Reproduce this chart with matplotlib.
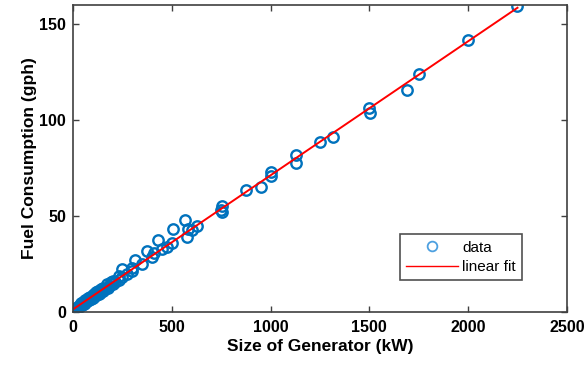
import numpy as np
import matplotlib
matplotlib.use("Agg")
import matplotlib.pyplot as plt

# generator size (kW) vs fuel use at full load (gal/h)
size_kw = [5, 8, 10, 12, 15, 15, 20, 20, 25, 27, 30, 30, 35, 40, 40, 45, 50, 50,
           55, 60, 60, 65, 70, 75, 75, 80, 85, 90, 100, 100, 105, 110, 115, 125,
           125, 130, 135, 140, 150, 150, 160, 170, 175, 180, 190, 200, 200, 210,
           230, 230, 250, 250, 275, 300, 300, 315, 350, 375, 400, 410, 431, 450,
           477, 500, 508, 568, 578, 584, 600, 629, 750, 756, 756, 873, 949, 1000,
           1000, 1127, 1127, 1250, 1315, 1500, 1502, 1690, 1750, 2000, 2250]
fuel_gph = [0.6, 1.0, 1.2, 1.5, 1.4, 2.0, 1.6, 2.3, 2.5, 2.0, 2.9, 3.3, 3.0, 3.8,
            4.4, 3.6, 4.5, 5.4, 4.3, 4.8, 6.2, 5.5, 5.6, 6.1, 7.2, 6.4, 7.9, 6.8,
            7.4, 8.7, 9.3, 8.2, 10.2, 9.1, 10.8, 9.6, 9.8, 12.0, 10.9, 12.6, 11.8,
            14.5, 12.7, 13.6, 15.8, 14.4, 16.2, 15.5, 16.6, 18.5, 18.0, 22.5, 20.0,
            21.5, 23.0, 27.0, 25.1, 32.0, 28.8, 30.5, 37.5, 33.0, 34.0, 35.7, 43.0,
            48.0, 39.0, 43.0, 42.8, 45.0, 53.4, 55.0, 52.0, 63.5, 65.0, 71.1, 73.0,
            82.0, 77.6, 88.8, 91.0, 106.5, 104.0, 116.0, 124.3, 141.9, 159.6]

x = np.array(size_kw, dtype=float)
y = np.array(fuel_gph, dtype=float)
p = np.polyfit(x, y, 1)
xf = np.array([x.min(), x.max()])

plt.rcParams['font.family'] = ['Liberation Sans', 'DejaVu Sans']

fig = plt.figure(figsize=(5.85, 3.7), dpi=100)
ax = fig.add_axes([0.125, 0.157, 0.844, 0.829])

ax.plot(x, y, 'o', mfc='none', mec='#0072BD', mew=1.7, ms=7.5, label='data')
ax.plot(xf, np.polyval(p, xf), '-', color='#FF0000', lw=1.4, label='linear fit')

ax.set_xlim(0, 2500)
ax.set_ylim(0, 160)
ax.set_xticks([0, 500, 1000, 1500, 2000, 2500])
ax.set_yticks([0, 50, 100, 150])
ax.tick_params(direction='in', top=True, right=True, length=4, width=1,
               color='#404040', labelsize=11.5)
ax.tick_params(axis='x', pad=6)
ax.tick_params(axis='y', pad=5)
for lab in ax.get_xticklabels() + ax.get_yticklabels():
    lab.set_fontweight('bold')
for s in ax.spines.values():
    s.set_color('#404040')
    s.set_linewidth(1.2)

ax.set_xlabel('Size of Generator (kW)', fontsize=12.5, fontweight='bold', labelpad=3)
ax.set_ylabel('Fuel Consumption (gph)', fontsize=12.5, fontweight='bold', labelpad=2)

leg = ax.legend(loc='lower right', bbox_to_anchor=(0.909, 0.104), fontsize=11,
                fancybox=False, framealpha=1, edgecolor='#505050',
                handlelength=3.4, handletextpad=0.3, borderpad=0.4,
                labelspacing=0.35, borderaxespad=0)
leg.get_frame().set_linewidth(1.2)
leg.legend_handles[0].set_markeredgecolor('#4DA0E0')
leg.legend_handles[0].set_markersize(7)
leg.legend_handles[0].set_markeredgewidth(1.3)
leg.legend_handles[1].set_linewidth(1)

fig.savefig('out.png', dpi=100)
